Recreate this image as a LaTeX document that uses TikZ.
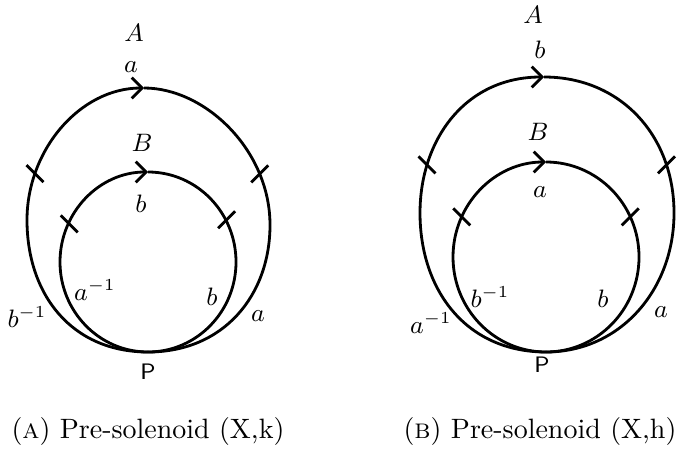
\documentclass[tikz,border=0pt]{standalone}
\usepackage{amsmath}
\usepackage{tikz}
\usetikzlibrary{arrows.meta}

\tikzset{
  loopline/.style={line width=1pt},
  tickline/.style={line width=1pt},
  lbl/.style={font=\small, inner sep=0pt},
  pointlbl/.style={font=\sffamily\footnotesize, inner sep=0pt},
  flow/.style={-{Straight Barb[length=1.3mm, width=2.6mm, line width=1pt]}},
}

\begin{document}
\begin{tikzpicture}[x=0.1255mm, y=0.1255mm]
	\def\tk{8.5}   % half size of a tick

\useasboundingbox (0,0) rectangle (684,452);

%%%%% (a) Pre-solenoid (X,k)
\coordinate (pA) at (148,100);
\coordinate (lA) at (27,232);
\coordinate (tA) at (144,364);
\coordinate (rA) at (270,227);
\coordinate (ciA) at (149,190);

% outer loop A
\draw[loopline, flow] (pA) .. controls (72,100) and (27,157) .. (lA)
	.. controls (27,302) and (80,364) .. (tA) coordinate[pos=0.23] (tkA1);
\draw[loopline] (tA) .. controls (205,364) and (270,302) .. (rA) coordinate[pos=0.76] (tkA2)
	.. controls (270,157) and (224,100) .. (pA);

% inner loop B
\draw[loopline, flow] (pA) arc[start angle=270, end angle=90, x radius=88, y radius=90];
\draw[loopline] (pA) arc[start angle=-90, end angle=90, x radius=88, y radius=90];

% ticks
\draw[tickline] (tkA1) ++(-\tk,\tk) -- ++(2*\tk,-2*\tk);
\draw[tickline] (tkA2) ++(-\tk,-\tk) -- ++(2*\tk,2*\tk);
\draw[tickline] (ciA) ++(155:88 and 90) ++(-\tk,\tk) -- ++(2*\tk,-2*\tk);
\draw[tickline] (ciA) ++(28:88 and 90) ++(-\tk,-\tk) -- ++(2*\tk,2*\tk);

\node[lbl] (labA1) at (134,419) {$A$};
\node[lbl] (labA2) at (131,385) {$a$};
\node[lbl] (labA3) at (142,309) {$B$};
\node[lbl] (labA4) at (141,248) {$b$};
\node[lbl] (labA5) at (95,162) {$a^{-1}$};
\node[lbl] (labA6) at (212,155) {$b$};
\node[lbl] (labA7) at (27,135) {$b^{-1}$};
\node[lbl] (labA8) at (258,136) {$a$};
\node[pointlbl] (labA9) at (148,80) {P};

\node[inner sep=0pt] (capA) at (148,21) {(\textsc{a}) Pre-solenoid (X,k)};

%%%%% (b) Pre-solenoid (X,h)
\coordinate (pB) at (546,100);
\coordinate (lB) at (420,239);
\coordinate (tB) at (544,375);
\coordinate (rB) at (674,239);
\coordinate (ciB) at (546,195);

% outer loop A
\draw[loopline, flow] (pB) .. controls (466,100) and (420,162) .. (lB)
	.. controls (420,312) and (465,375) .. (tB) coordinate[pos=0.23] (tkB1);
\draw[loopline] (tB) .. controls (620,375) and (674,317) .. (rB) coordinate[pos=0.78] (tkB2)
	.. controls (674,162) and (620,100) .. (pB);

% inner loop B
\draw[loopline, flow] (pB) arc[start angle=270, end angle=90, x radius=93, y radius=95];
\draw[loopline] (pB) arc[start angle=-90, end angle=90, x radius=93, y radius=95];

% ticks
\draw[tickline] (tkB1) ++(-\tk,\tk) -- ++(2*\tk,-2*\tk);
\draw[tickline] (tkB2) ++(-\tk,-\tk) -- ++(2*\tk,2*\tk);
\draw[tickline] (ciB) ++(155:93 and 95) ++(-\tk,\tk) -- ++(2*\tk,-2*\tk);
\draw[tickline] (ciB) ++(25:93 and 95) ++(-\tk,-\tk) -- ++(2*\tk,2*\tk);

\node[lbl] (labB1) at (533,437) {$A$};
\node[lbl] (labB2) at (540,402) {$b$};
\node[lbl] (labB3) at (538,320) {$B$};
\node[lbl] (labB4) at (540,260) {$a$};
\node[lbl] (labB5) at (490,155) {$b^{-1}$};
\node[lbl] (labB6) at (603,153) {$b$};
\node[lbl] (labB7) at (431,129) {$a^{-1}$};
\node[lbl] (labB8) at (661,140) {$a$};
\node[pointlbl] (labB9) at (542,87) {P};

\node[inner sep=0pt] (capB) at (540,21) {(\textsc{b}) Pre-solenoid (X,h)};

\end{tikzpicture}
\end{document}
